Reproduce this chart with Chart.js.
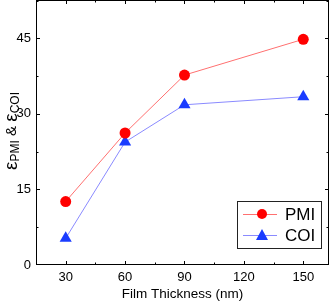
<!DOCTYPE html>
<html><head><meta charset="utf-8">
<script src="https://cdn.jsdelivr.net/npm/chart.js@4.4.1/dist/chart.umd.min.js"></script>
<style>html,body{margin:0;padding:0;background:#fff}#wrap{width:332px;height:302px;position:relative}</style>
</head><body><div id="wrap"><canvas id="c" width="332" height="302"></canvas></div>
<script>
const thickness = [30, 60, 90, 150];
const pmiValues = [12.6, 26.2, 37.7, 44.8];
const coiValues = [5.3, 24.4, 31.8, 33.4];
const xTicks = [30, 60, 90, 120, 150];
const yTicks = [0, 15, 30, 45];
const xTitle = 'Film Thickness (nm)';
const seriesNames = ['PMI', 'COI'];
const FONT = '"Liberation Sans", Arial, sans-serif';

const pts = (xs, ys) => xs.map((x, i) => ({x, y: ys[i]}));

const framePlugin = {
  id: 'frame',
  afterDraw(chart) {
    const ctx = chart.ctx, a = chart.chartArea;
    const xs = chart.scales.x, ys = chart.scales.y;
    ctx.save();
    ctx.strokeStyle = '#000'; ctx.lineWidth = 1;
    ctx.strokeRect(a.left + 0.5, a.top + 0.5, a.right - a.left - 1, a.bottom - a.top - 1);
    ctx.beginPath();
    for (let v = 15; v <= 165; v += 15) {
      const px = Math.round(xs.getPixelForValue(v)) + 0.5;
      if (px < a.left + 1 || px > a.right - 1) continue;
      const len = (v % 30 === 0) ? 4 : 2.5;
      ctx.moveTo(px, a.bottom); ctx.lineTo(px, a.bottom - len);
      ctx.moveTo(px, a.top); ctx.lineTo(px, a.top + len);
    }
    for (let v = 0; v <= 52.5; v += 7.5) {
      const py = Math.round(ys.getPixelForValue(v)) + 0.5;
      if (py < a.top + 1 || py > a.bottom - 1) continue;
      const len = (v % 15 === 0) ? 4 : 2.5;
      ctx.moveTo(a.left, py); ctx.lineTo(a.left + len, py);
      ctx.moveTo(a.right, py); ctx.lineTo(a.right - len, py);
    }
    ctx.stroke();

    ctx.save();
    ctx.translate(12, 131);
    ctx.rotate(-Math.PI / 2);
    ctx.fillStyle = '#000';
    ctx.textBaseline = 'middle';
    const parts = [
      ['ε', 19, 0], ['PMI', 12, 4], [' & ', 15, 0], ['ε', 19, 0], ['COI', 12, 4]
    ];
    let total = 0;
    parts.forEach(p => { ctx.font = p[1] + 'px ' + FONT; total += ctx.measureText(p[0]).width; });
    let x = -total / 2;
    parts.forEach(p => {
      ctx.font = p[1] + 'px ' + FONT;
      ctx.fillText(p[0], x, p[2]);
      x += ctx.measureText(p[0]).width;
    });
    ctx.restore();

    const lx = 237.5, ly = 201.5, lw = 84, lh = 47;
    ctx.fillStyle = '#fff';
    ctx.fillRect(lx, ly, lw, lh);
    ctx.strokeStyle = '#222'; ctx.lineWidth = 1;
    ctx.strokeRect(lx, ly, lw, lh);
    const items = [
      {name: seriesNames[0], y: 214, line: '#ff7070', col: '#ff0000', shape: 'circle'},
      {name: seriesNames[1], y: 235, line: '#8a8aff', col: '#1a3cff', shape: 'triangle'}
    ];
    items.forEach(it => {
      ctx.strokeStyle = it.line; ctx.lineWidth = 1;
      ctx.beginPath(); ctx.moveTo(243, it.y + 0.5); ctx.lineTo(277, it.y + 0.5); ctx.stroke();
      ctx.fillStyle = it.col;
      ctx.beginPath();
      if (it.shape === 'circle') { ctx.arc(262, it.y, 5, 0, Math.PI * 2); }
      else { ctx.moveTo(262, it.y - 6); ctx.lineTo(268, it.y + 5); ctx.lineTo(256, it.y + 5); ctx.closePath(); }
      ctx.fill();
      ctx.fillStyle = '#000';
      ctx.font = '17px ' + FONT;
      ctx.textBaseline = 'middle';
      ctx.fillText(it.name, 285, it.y + 1);
    });
    ctx.restore();
  }
};

new Chart(document.getElementById('c'), {
  type: 'scatter',
  data: {
    datasets: [
      {label: seriesNames[0], data: pts(thickness, pmiValues), showLine: true,
       borderColor: '#ff7070', borderWidth: 1, backgroundColor: '#ff0000',
       pointStyle: 'circle', pointRadius: 5.5, pointBorderWidth: 0, pointBackgroundColor: '#ff0000'},
      {label: seriesNames[1], data: pts(thickness, coiValues), showLine: true,
       borderColor: '#8a8aff', borderWidth: 1, backgroundColor: '#1a3cff',
       pointStyle: 'triangle', pointRadius: 7, pointBorderWidth: 0, pointBackgroundColor: '#1a3cff'}
    ]
  },
  options: {
    responsive: false, animation: false, devicePixelRatio: 1,
    layout: {autoPadding: false, padding: {top: 0, right: 3, left: 0, bottom: 0}},
    plugins: {legend: {display: false}, tooltip: {enabled: false}},
    scales: {
      x: {
        type: 'linear', min: 15, max: 163,
        afterBuildTicks: s => { s.ticks = xTicks.map(v => ({value: v})); },
        afterFit: s => { s.height = 37; s.paddingLeft = 0; s.paddingRight = 0; },
        grid: {display: false, drawTicks: false},
        border: {display: false},
        ticks: {color: '#000', font: {family: FONT, size: 13}, padding: 5, maxRotation: 0},
        title: {display: true, text: xTitle, color: '#000', font: {family: FONT, size: 13.5}, padding: {top: 2, bottom: 0}}
      },
      y: {
        type: 'linear', min: 0, max: 52.6,
        afterBuildTicks: s => { s.ticks = yTicks.map(v => ({value: v})); },
        afterFit: s => { s.width = 36; s.paddingTop = 0; s.paddingBottom = 0; },
        grid: {display: false, drawTicks: false},
        border: {display: false},
        ticks: {color: '#000', font: {family: FONT, size: 13}, padding: 5}
      }
    }
  },
  plugins: [framePlugin]
});
</script></body></html>
